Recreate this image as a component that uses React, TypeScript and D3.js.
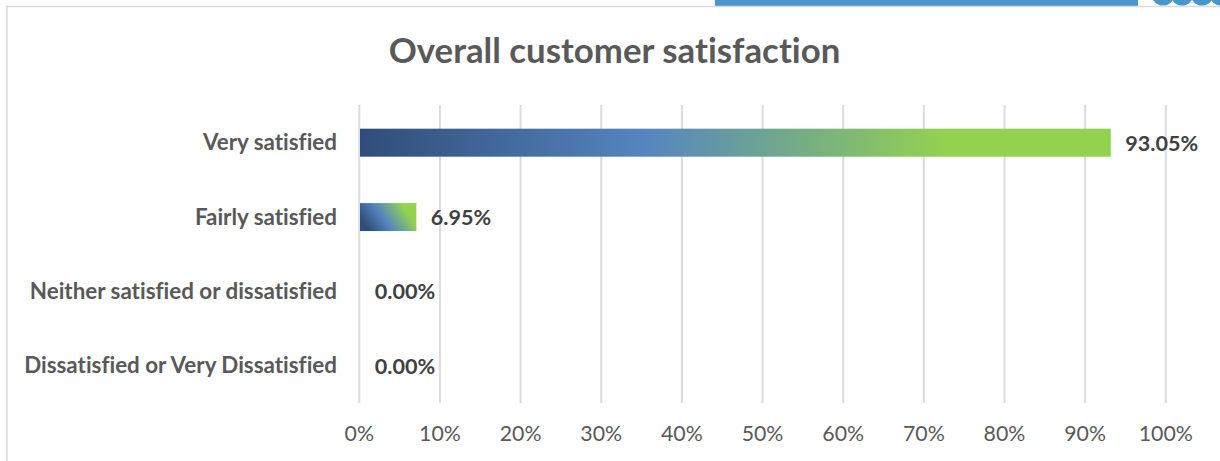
import React from "react";
import * as d3 from "d3";

const categories = ["Very satisfied", "Fairly satisfied", "Neither satisfied or dissatisfied", "Dissatisfied or Very Dissatisfied"];
const values = [93.05, 6.95, 0, 0];
const valueLabels = ["93.05%", "6.95%", "0.00%", "0.00%"];
const ticks = [0, 10, 20, 30, 40, 50, 60, 70, 80, 90, 100];
const waveCentres = [1163, 1182, 1202, 1221];

const FONT = "Lato, Carlito, sans-serif";
const noLig = { fontVariantLigatures: "none" } as React.CSSProperties;

export default function App() {
  const x = d3.scaleLinear().domain([0, 100]).range([359.3, 1165.8]);
  const y = d3.scaleBand<string>().domain(categories).range([105.5, 403]).paddingInner(0).paddingOuter(0);
  const barH = 28;
  return (
    <svg width={1220} height={461} style={{ position: "absolute", left: 0, top: 0, background: "#fff" }}>
      <defs>
        <linearGradient id="g1" x1="0" x2="1" y1="0" y2="0">
          <stop offset="0" stopColor="#2f4d78" />
          <stop offset="0.38" stopColor="#5585c0" />
          <stop offset="0.78" stopColor="#93d24f" />
          <stop offset="1" stopColor="#93d24f" />
        </linearGradient>
        <linearGradient id="g2" gradientUnits="objectBoundingBox" x1="0" x2="0.85" y1="0.55" y2="0.25">
          <stop offset="0" stopColor="#2f4d78" />
          <stop offset="0.45" stopColor="#5585c0" />
          <stop offset="0.95" stopColor="#93d24f" />
          <stop offset="1" stopColor="#93d24f" />
        </linearGradient>
      </defs>
      <rect x={715} y={0} width={423} height={6} fill="#4a96cb" />
      {waveCentres.map((c) => (
        <circle key={c} cx={c} cy={-6} r={11.5} fill="#4a96cb" />
      ))}
      <line x1={6} x2={1220} y1={6.5} y2={6.5} stroke="#d9d9d9" strokeWidth={1.5} />
      <line x1={7} x2={7} y1={6} y2={461} stroke="#d9d9d9" strokeWidth={1.5} />

      <text x={614.5} y={63} textAnchor="middle" fontFamily={FONT} fontWeight={700} fontSize={34.8} fill="#595959" style={noLig}>
        Overall customer satisfaction
      </text>

      {ticks.map((t) => (
        <g key={t}>
          <line x1={x(t)} x2={x(t)} y1={105} y2={403} stroke="#dcdcdc" strokeWidth={2} />
          <text x={x(t)} y={441} textAnchor="middle" fontFamily={FONT} fontSize={21.3} fill="#595959" style={noLig}>
            {t}%
          </text>
        </g>
      ))}

      {categories.map((c, i) => {
        const cy = y(c)! + y.bandwidth() / 2;
        const w = x(values[i]) - x(0);
        return (
          <g key={c}>
            {w > 0 && (
              <rect x={x(0) + 0.7} y={cy - barH / 2} width={w + 0.3} height={barH} fill={`url(#${i === 0 ? "g1" : "g2"})`} />
            )}
            <text x={337} y={cy + 7.6} textAnchor="end" fontFamily={FONT} fontWeight={700} fontSize={22.4} fill="#595959" style={noLig}>
              {c}
            </text>
            <text x={x(values[i]) + 15.5} y={cy + 8} fontFamily={FONT} fontWeight={700} fontSize={21.6} fill="#404040" style={noLig}>
              {valueLabels[i]}
            </text>
          </g>
        );
      })}
    </svg>
  );
}
